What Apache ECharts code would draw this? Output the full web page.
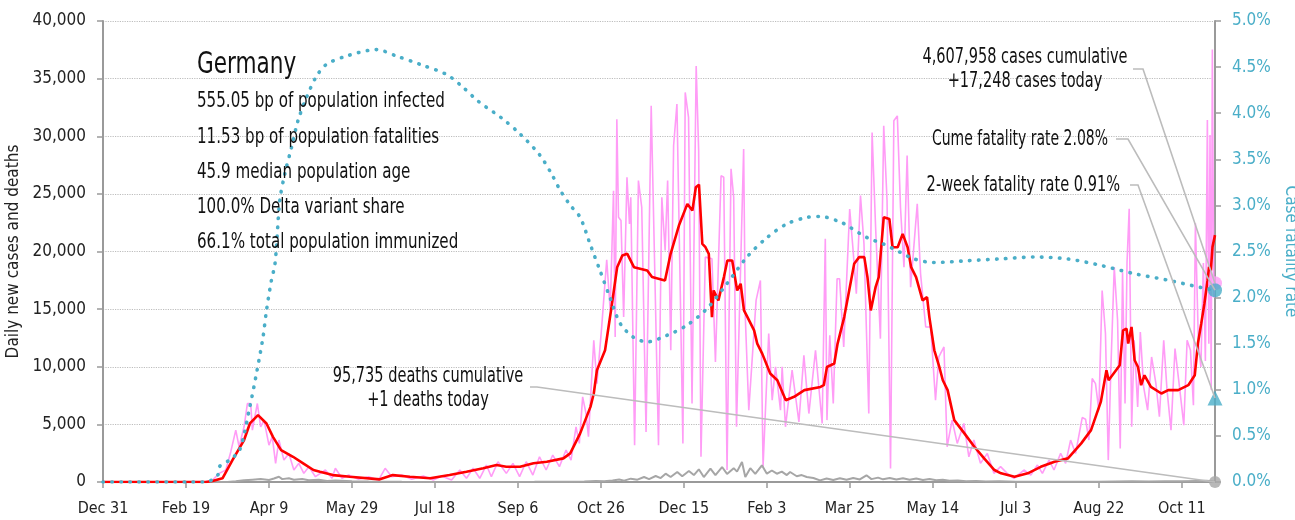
<!DOCTYPE html>
<html>
<head>
<meta charset="utf-8">
<script src="https://cdn.jsdelivr.net/npm/echarts@6/dist/echarts.min.js"></script>
<style>
  html, body { margin: 0; padding: 0; background: #fff; }
  #main { width: 1295px; height: 520px; }
</style>
</head>
<body>
<div id="main"></div>
<script>
// x = days since Dec 31 (2019)
const tickLabels = ["Dec 31", "Feb 19", "Apr 9", "May 29", "Jul 18", "Sep 6", "Oct 26",
  "Dec 15", "Feb 3", "Mar 25", "May 14", "Jul 3", "Aug 22", "Oct 11"];
const lastDay = 670;

// daily new cases (raw reports)
const casesDaily = [[0,0],[60,0],[64,60],[66,170],[70,750],[74,1040],[77,2630],[80,4500],[82,3060],[85,4790],[87,6810],[89,6810],[90,4500],[93,6810],[95,4790],[97,5370],[100,3200],[102,3920],[104,1620],[106,3640],[109,1900],[112,2480],[115,1040],[118,1620],[121,750],[124,1330],[128,460],[134,1040],[138,320],[140,1190],[144,320],[148,600],[154,230],[160,460],[166,170],[170,1190],[174,460],[180,600],[186,230],[193,520],[199,170],[204,520],[210,170],[215,1040],[219,320],[223,1190],[227,320],[231,1470],[234,460],[238,1760],[243,750],[247,1620],[251,460],[255,1760],[259,600],[263,2190],[267,1040],[271,2340],[275,1330],[279,2770],[282,1900],[285,4790],[287,3350],[289,7390],[291,5950],[292.5,3930],[295.7,12300],[297.6,8540],[300.5,13500],[303.5,19280],[305.6,14900],[307.6,25280],[308.6,12590],[309.6,31480],[310.6,22970],[312.1,22690],[313.7,14310],[315.7,26440],[317.2,22400],[318,24710],[320.3,3190],[322.6,26150],[324.6,23840],[327.2,4350],[330.3,32640],[332.1,20660],[334.7,3190],[336.7,24710],[338.7,20090],[340.2,26150],[342.1,11430],[343.8,29180],[345.8,32790],[347.8,16600],[349.4,3350],[350.8,33800],[352.8,31630],[354.9,6810],[357.4,36100],[358.9,28750],[360.3,2190],[362.9,19510],[366.9,19370],[369,10420],[372.4,26580],[374,26440],[376,1040],[378.4,27170],[380,24710],[381.7,4790],[386,28890],[387,14310],[389.1,6230],[393.5,15760],[396.1,17490],[397.7,1330],[401.1,12880],[403.2,7100],[405.2,10000],[408.2,6230],[409.2,10000],[411.2,4790],[415.2,9700],[419.3,5220],[422.3,11000],[425.3,5940],[429.3,11430],[433.3,5080],[435.2,21100],[436.2,5370],[437.9,12730],[440,6810],[442.3,17630],[443.8,17630],[446.3,11720],[449.9,23690],[451.8,20370],[453.9,16340],[456.4,24850],[458.5,20660],[461.4,5940],[463.4,30330],[465.5,22110],[468.4,12440],[470.4,30900],[472.4,24420],[474.5,1180],[476.5,31340],[478.6,31770],[480.5,23840],[482.6,18640],[484.5,28320],[486.6,16910],[490.6,24130],[492.6,18060],[495.7,13450],[498.7,13450],[501.6,7100],[503.6,10850],[506.7,11720],[508.6,3060],[511.6,5370],[514.7,3350],[518.7,5080],[521.7,2190],[524.7,3640],[528.7,1620],[532.8,2480],[536.8,750],[540.8,1330],[544.8,750],[548.9,320],[554.9,1040],[559,600],[563,1470],[566,750],[570,1900],[573,1040],[577,2480],[580,1620],[583,3640],[586,2480],[590,5590],[592,5450],[594,3640],[596,8980],[598,8540],[600,6230],[602,16620],[604,12880],[605.7,1900],[607.3,10000],[609.3,18640],[611.3,14020],[612.9,2910],[614.3,18200],[615.8,6810],[617,19080],[618.3,23700],[619.8,4790],[621.3,12300],[623.4,6520],[625,13020],[627,8250],[629.4,6230],[631.8,10850],[634.4,8540],[636.5,5660],[639.1,12300],[641.1,7970],[643.5,4500],[645.9,11580],[648.6,8250],[651.2,4930],[653.2,12300],[655.2,11430],[657,6660],[658.2,22460],[660,12000],[661.5,9980],[663,19000],[664.2,10500],[665.4,31400],[666.3,12000],[667,30100],[667.7,8000],[668.4,37530],[669.3,16000],[670,17248]];

// 7-day average of new cases
const casesAvg = [[0,0],[62,0],[66,80],[72,320],[78,1900],[85,3640],[88.5,5080],[93.4,5800],[98.5,5080],[102.4,3920],[107.3,2770],[114.5,2190],[120.6,1620],[126.8,1040],[130.7,890],[138.5,600],[148.8,460],[166.8,230],[174.6,600],[184.9,460],[197.1,320],[208.8,600],[219,890],[229.1,1190],[237.1,1470],[243,1320],[251.3,1320],[259.4,1620],[267.4,1760],[277.4,2050],[281.5,2480],[287.5,4220],[293.7,6520],[295.7,7680],[297.6,9700],[302.5,11430],[306.4,15180],[309.8,18640],[312.9,19650],[315.9,19800],[319.9,18640],[327.9,18350],[330.8,17780],[338.6,17490],[342,19800],[347,22250],[352.1,24130],[355.1,23550],[357.2,25570],[359.1,25800],[361.1,20670],[363,20370],[365,19800],[366.9,14310],[367.9,16620],[370.8,15760],[374.1,17780],[376.2,19220],[379.1,19220],[382.1,16620],[384.2,17200],[386.2,14890],[388.3,14310],[392.3,13160],[394.2,12010],[397.2,11140],[402,9410],[406.3,8830],[411.4,7100],[416.4,7390],[422.6,7970],[432.3,8250],[434.3,8400],[436.2,9980],[440.6,10280],[442.6,12010],[446.6,14310],[452.6,18930],[455.6,19510],[458.7,19510],[460.6,17780],[462.6,14890],[465.5,16910],[467.4,17780],[470.4,22970],[473.8,22830],[475.7,20370],[478.8,20370],[481.8,21530],[484.8,20370],[486.9,18640],[489.9,17780],[493.8,15760],[496.5,16040],[497.9,14310],[500.9,11430],[503.9,9980],[506,8830],[508.9,7970],[512.9,5370],[519,4220],[525,3060],[530.9,2050],[537.1,1040],[541.1,750],[549.2,460],[557.2,750],[565,1320],[573.3,1760],[581.4,2050],[589.4,3350],[595.3,4500],[601.2,6950],[604.6,9700],[605.9,8830],[612.6,10130],[614.6,13160],[616.7,13310],[617.7,12010],[619.7,13450],[621.6,10560],[623.6,9980],[625.5,8400],[627.5,9260],[631.4,8250],[637.7,7680],[641.8,7970],[647.8,7970],[653.9,8400],[657.8,9260],[659.7,12010],[661.7,13740],[663.6,15470],[665.5,17490],[666.4,18670],[667.5,18350],[668.5,20400],[670,21420]];

// daily deaths
const deathsDaily = [[0,0],[70,0],[75,10],[80,60],[85,150],[90,200],[95,250],[100,180],[103,300],[106,460],[108,250],[112,320],[115,200],[120,260],[124,150],[130,200],[135,90],[140,130],[150,60],[160,40],[180,20],[200,10],[230,10],[260,15],[280,25],[290,40],[297,90],[302,60],[307,140],[311,220],[314,120],[318,290],[322,200],[326,430],[329,250],[333,520],[336,340],[339,720],[342,430],[346,870],[349,500],[353,950],[356,600],[359,1100],[362,430],[366,1160],[369,600],[373,1300],[376,700],[380,1200],[382,900],[385,1730],[387,430],[390,1200],[393,700],[397,1450],[400,720],[403,1000],[406,720],[409,900],[412,600],[414,870],[418,500],[421,600],[424,430],[428,350],[432,140],[436,300],[440,180],[444,320],[448,200],[452,350],[456,220],[460,580],[463,250],[467,380],[470,230],[474,350],[478,220],[482,330],[486,200],[490,300],[494,170],[498,260],[502,150],[506,200],[510,100],[515,140],[520,70],[526,90],[532,50],[540,60],[550,30],[570,20],[590,15],[600,20],[610,40],[620,60],[630,50],[640,70],[650,60],[660,90],[665,100],[668,60],[670,1]];

// cumulative case fatality rate, %
const fatalityRate = [[0,0],[62,0],[69.3,0.08],[70.3,0.17],[76.4,0.24],[82.4,0.35],[88.4,0.81],[92.5,1.18],[96.4,1.57],[98.5,1.86],[101.5,2.19],[103.5,2.35],[104.5,2.55],[106.5,3.05],[109.5,3.34],[113.6,3.63],[117.5,3.92],[122.6,4.17],[128.6,4.4],[134.7,4.53],[146.7,4.62],[164.8,4.69],[176.9,4.62],[191,4.53],[207,4.42],[217,4.28],[226,4.13],[240,3.95],[251,3.78],[263,3.55],[270,3.35],[275.6,3.16],[281.6,3.0],[287.5,2.87],[293.5,2.58],[299.5,2.29],[305.5,2.0],[311.6,1.72],[319.6,1.57],[327.7,1.52],[339.7,1.59],[351.8,1.70],[363.9,1.88],[375.9,2.15],[388,2.44],[400,2.65],[412.1,2.80],[424.2,2.87],[432.2,2.88],[444.3,2.82],[450.3,2.76],[460.4,2.65],[470.4,2.58],[480.5,2.49],[488.5,2.42],[500.5,2.38],[520.7,2.40],[540.8,2.42],[560.9,2.44],[581,2.42],[601,2.35],[621.2,2.26],[641.3,2.19],[661.4,2.11],[670,2.08]];

const twoWeekRate = 0.91;

const statLines = [
  "555.05 bp of population infected",
  "11.53 bp of population fatalities",
  "45.9 median population age",
  "100.0% Delta variant share",
  "66.1% total population immunized"
];

// pick a condensed face if one is installed, else squeeze the plain one
function hasFont(name) {
  const c = document.createElement("canvas").getContext("2d");
  const s = "mmmmmmmmmmlli 0123456789";
  c.font = "40px monospace";
  const w0 = c.measureText(s).width;
  c.font = '40px "' + name + '", monospace';
  return c.measureText(s).width !== w0;
}
const narrow = ["Liberation Sans Narrow", "DejaVu Sans Condensed", "Roboto Condensed"].find(hasFont);
const FONT = narrow ? '"' + narrow + '", sans-serif' : '"Liberation Sans", Arial, sans-serif';
const SQUEEZE = 0.77;
const AXIS_SIZE = 17;

const PINK = "#ff9cf6";
const TEAL = "#4aaec8";
const GREY = "#a6a6a6";

const last = arr => arr[arr.length - 1];

const chart = echarts.init(document.getElementById("main"), null, { renderer: "canvas" });

const option = {
  animation: false,
  backgroundColor: "#fff",
  textStyle: { fontFamily: FONT },
  grid: { left: 103, right: 80, top: 21, bottom: 38, containLabel: false, outerBoundsMode: "none" },
  xAxis: {
    type: "value",
    min: 0,
    max: lastDay,
    interval: 50,
    axisLine: { show: true, lineStyle: { color: "#9a9a9a", width: 2 } },
    axisTick: { show: true, length: 6, lineStyle: { color: "#9a9a9a", width: 1.5 } },
    axisLabel: {
      fontFamily: FONT, fontSize: 16, color: "#222", margin: 19, showMaxLabel: false,
      formatter: v => (v % 50 === 0 ? tickLabels[v / 50] || "" : "")
    },
    splitLine: { show: false }
  },
  yAxis: [
    {
      type: "value",
      min: 0,
      max: 40000,
      interval: 5000,
      name: "Daily new cases and deaths",
      nameLocation: "middle",
      nameRotate: 90,
      nameGap: 71,
      nameTextStyle: { fontFamily: FONT, fontSize: AXIS_SIZE, color: "#222" },
      axisLine: { show: true, lineStyle: { color: "#9a9a9a", width: 2 } },
      axisTick: { show: true, length: 6, lineStyle: { color: "#9a9a9a", width: 1.5 } },
      axisLabel: {
        fontFamily: FONT, fontSize: AXIS_SIZE, color: "#222", margin: 17,
        formatter: v => v.toLocaleString("en-US")
      },
      splitLine: { show: true, lineStyle: { color: "#bdbdbd", type: "dotted", width: 1.2 } }
    },
    {
      type: "value",
      min: 0,
      max: 5,
      interval: 0.5,
      position: "right",
      name: "Case fatality rate",
      nameLocation: "middle",
      nameRotate: -90,
      nameGap: 55,
      nameTextStyle: { fontFamily: FONT, fontSize: AXIS_SIZE, color: TEAL },
      axisLine: { show: true, lineStyle: { color: "#9a9a9a", width: 2 } },
      axisTick: { show: true, length: 6, lineStyle: { color: "#9a9a9a", width: 1.5 } },
      axisLabel: {
        fontFamily: FONT, fontSize: AXIS_SIZE, color: TEAL, margin: 17,
        formatter: v => v.toFixed(1) + "%"
      },
      splitLine: { show: false }
    }
  ],
  series: [
    {
      name: "Daily cases",
      type: "line",
      data: casesDaily,
      showSymbol: false,
      lineStyle: { color: PINK, width: 1.6 },
      z: 2
    },
    {
      name: "Daily deaths",
      type: "line",
      data: deathsDaily,
      showSymbol: false,
      lineStyle: { color: GREY, width: 2 },
      z: 3
    },
    {
      name: "Cases 7-day avg",
      type: "line",
      data: casesAvg,
      showSymbol: false,
      lineStyle: { color: "#ff0000", width: 2.6 },
      z: 4
    },
    {
      name: "Case fatality rate",
      type: "line",
      yAxisIndex: 1,
      data: fatalityRate,
      showSymbol: false,
      smooth: 0.3,
      lineStyle: { color: TEAL, width: 3.6, type: [0.5, 8.5], cap: "round" },
      z: 5
    },
    // end-of-series markers
    {
      type: "scatter", data: [last(casesDaily)], symbol: "circle", symbolSize: 14,
      itemStyle: { color: PINK }, z: 6, silent: true
    },
    {
      type: "scatter", data: [last(deathsDaily)], symbol: "circle", symbolSize: 12,
      itemStyle: { color: GREY }, z: 6, silent: true
    },
    {
      type: "scatter", yAxisIndex: 1, data: [last(fatalityRate)], symbol: "circle", symbolSize: 14,
      itemStyle: { color: TEAL }, z: 7, silent: true
    },
    {
      type: "scatter", yAxisIndex: 1, data: [[lastDay, twoWeekRate]], symbol: "triangle", symbolSize: 15,
      itemStyle: { color: TEAL }, z: 7, silent: true
    }
  ]
};

chart.setOption(option);

// annotations and leader lines to the end markers
const px = (pt, yIdx) => chart.convertToPixel({ xAxisIndex: 0, yAxisIndex: yIdx }, pt);
const pCases = px(last(casesDaily), 0);
const pDeaths = px(last(deathsDaily), 0);
const pCfr = px(last(fatalityRate), 1);
const pTwo = px([lastDay, twoWeekRate], 1);

function leader(x0, x1, y, end) {
  return {
    type: "polyline", silent: true, z: 50,
    shape: { points: [[x0, y], [x1, y], end] },
    style: { stroke: "#bcbcbc", lineWidth: 1.6, fill: null }
  };
}
function label(text, x, y, size, align, sx) {
  return {
    type: "text", silent: true, z: 60, x: x, y: y,
    scaleX: sx || SQUEEZE,
    style: {
      text: text, font: size + "px " + FONT, fill: "#111",
      align: align, verticalAlign: "middle", textAlign: align, textVerticalAlign: "middle"
    }
  };
}

const graphics = [
  leader(1133, 1143, 69, pCases),
  leader(1116, 1128, 139, pCfr),
  leader(1130, 1138, 185, pTwo),
  leader(530, 537, 387, pDeaths),
  label("4,607,958 cases cumulative", 1025, 58, 21, "center"),
  label("+17,248 cases today", 1025, 82, 21, "center"),
  label("Cume fatality rate 2.08%", 1108, 140, 21, "right", 0.74),
  label("2-week fatality rate 0.91%", 1120, 186, 21, "right", 0.77),
  label("95,735 deaths cumulative", 428, 377, 21, "center"),
  label("+1 deaths today", 428, 401, 21, "center"),
  label("Germany", 197, 65, 30, "left", 0.8)
];
statLines.forEach((t, i) => graphics.push(label(t, 197, 102 + i * 35.2, 21, "left", 0.8)));

chart.setOption({ graphic: graphics });
</script>
</body>
</html>
